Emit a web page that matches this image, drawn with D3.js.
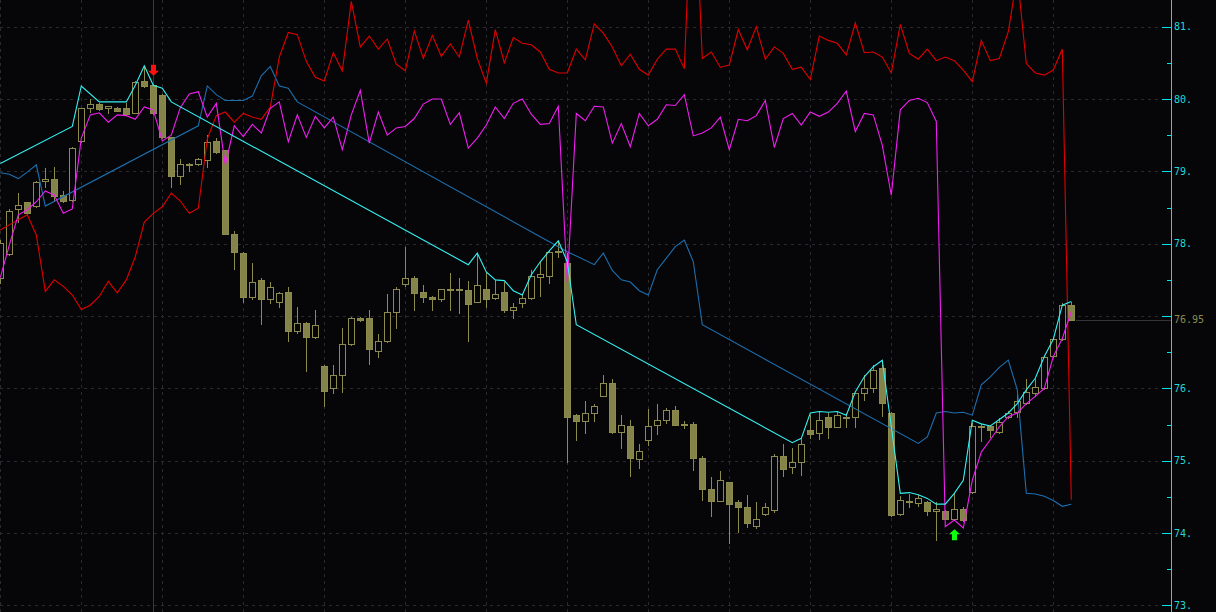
<!DOCTYPE html>
<html><head><meta charset="utf-8">
<script src="https://cdn.jsdelivr.net/npm/d3@7"></script>
<style>html,body{margin:0;padding:0;background:#060609;overflow:hidden}svg{display:block}</style>
</head><body><svg id="c" width="1216" height="612"></svg>
<script>
// ---- data (prices) ----
const opens=[77.53,77.86,78.48,78.57,78.52,78.87,78.90,78.67,78.60,79.42,79.87,79.93,79.87,79.88,79.87,79.81,80.25,80.19,80.06,79.47,78.94,79.09,79.10,79.16,79.42,79.29,78.13,77.87,77.27,77.50,77.23,77.20,77.33,76.80,76.90,76.71,76.31,76.00,76.18,76.61,76.97,76.97,76.52,76.65,77.05,77.44,77.52,77.33,77.27,77.24,77.37,77.37,77.36,77.20,77.37,77.25,77.33,77.09,77.18,77.25,77.54,77.55,77.89,77.74,75.63,75.55,75.66,75.90,76.07,75.40,75.48,75.03,75.28,75.50,75.57,75.70,75.51,75.51,75.04,74.61,74.45,74.70,74.43,74.36,74.10,74.26,74.32,75.07,74.91,74.98,75.42,75.38,75.60,75.47,75.60,75.60,75.93,76.00,76.28,75.66,74.26,74.43,74.42,74.43,74.30,74.31,74.20,74.33,74.57,75.48,75.48,75.40,75.60,75.68,75.80,75.93,76.00,76.45,76.68,77.15];
const highs=[78.05,78.48,78.70,78.58,78.86,79.04,79.06,78.73,79.33,79.88,80.00,79.94,79.91,79.89,79.94,80.25,80.45,80.21,80.07,79.48,79.17,79.12,79.18,79.50,79.46,79.30,78.18,77.88,77.73,77.53,77.47,77.33,77.40,77.12,76.92,77.09,76.32,76.32,76.83,76.98,76.98,77.09,76.75,77.30,77.40,77.95,77.55,77.43,77.28,77.38,77.60,77.52,77.48,77.87,77.61,77.50,77.47,77.18,77.30,77.64,77.75,77.90,78.03,77.87,75.64,75.82,75.79,76.19,76.13,75.63,75.56,75.23,75.72,75.79,75.73,75.76,75.55,75.54,75.06,74.77,74.86,74.71,74.46,74.53,74.43,74.42,75.10,75.23,75.17,75.30,75.63,75.68,75.66,75.68,75.66,75.94,76.18,76.32,76.37,75.67,74.51,74.54,74.52,74.44,74.43,74.32,74.55,74.36,75.52,75.51,75.49,75.59,75.69,75.95,76.13,76.13,76.45,76.69,77.18,77.20];
const lows=[77.45,77.84,78.30,78.41,78.51,78.79,78.60,78.58,78.59,79.41,79.82,79.85,79.80,79.83,79.78,79.80,80.17,79.79,79.46,78.79,78.83,79.00,79.09,79.06,79.26,78.13,77.65,77.20,77.24,76.89,77.18,77.13,76.65,76.76,76.24,76.70,75.75,75.94,75.95,76.60,76.93,76.34,76.44,76.64,76.84,77.41,77.08,77.20,77.08,77.21,77.08,77.04,76.65,77.19,77.12,77.24,77.05,76.97,77.13,77.24,77.28,77.46,77.82,74.98,75.29,75.39,75.55,75.89,75.38,75.17,74.79,74.90,75.22,75.37,75.52,75.49,75.45,74.87,74.46,74.23,74.44,73.87,74.02,74.08,74.07,74.25,74.29,74.79,74.83,74.80,75.32,75.30,75.32,75.46,75.47,75.46,75.84,75.95,75.62,74.23,74.25,74.36,74.38,74.25,73.91,74.19,74.19,74.17,74.56,75.27,75.33,75.39,75.59,75.61,75.79,75.89,75.99,76.44,76.67,76.94];
const closes=[78.01,78.45,78.54,78.42,78.85,78.90,78.66,78.59,79.32,79.87,79.93,79.86,79.90,79.84,79.79,80.24,80.18,79.80,79.47,78.94,79.10,79.10,79.17,79.40,79.27,78.14,77.89,77.27,77.47,77.24,77.40,77.32,76.79,76.90,76.71,76.87,75.97,76.19,76.62,76.97,76.95,76.54,76.65,77.05,77.37,77.52,77.32,77.27,77.23,77.37,77.37,77.38,77.17,77.43,77.24,77.30,77.08,77.12,77.25,77.55,77.58,77.89,77.90,75.60,75.55,75.66,75.76,76.07,75.40,75.50,75.04,75.13,75.48,75.57,75.70,75.50,75.50,75.04,74.61,74.45,74.73,74.40,74.36,74.14,74.20,74.36,75.07,74.88,74.98,75.23,75.37,75.57,75.47,75.63,75.60,75.93,76.00,76.25,75.80,74.25,74.46,74.44,74.48,74.30,74.33,74.20,74.33,74.18,75.48,75.48,75.42,75.53,75.66,75.83,75.95,76.02,76.43,76.68,77.15,76.95];

const magentaVal=[77.53,77.98,78.40,78.47,78.58,78.73,78.67,78.42,78.48,79.46,79.78,79.81,79.68,79.78,79.77,79.72,79.89,79.85,79.42,79.50,79.88,80.07,80.10,79.75,79.94,79.09,79.63,79.48,79.65,79.53,79.87,79.96,79.41,79.78,79.47,79.76,79.60,79.75,79.30,79.78,80.12,79.39,79.82,79.50,79.60,79.62,79.73,79.93,80.00,80.00,79.65,79.81,79.32,79.46,79.64,79.89,79.73,79.94,80.00,79.79,79.65,79.66,79.90,77.46,79.80,79.70,79.90,79.89,79.39,79.66,79.34,79.80,79.63,79.72,79.92,79.91,80.06,79.49,79.53,79.60,79.75,79.30,79.72,79.70,79.77,79.98,79.33,79.73,79.80,79.64,79.82,79.76,79.82,79.94,80.11,79.55,79.80,79.78,79.36,78.67,79.85,79.98,80.01,79.95,79.69,74.09,74.18,74.07,74.73,75.12,75.29,75.47,75.61,75.66,75.79,75.89,76.00,76.44,76.69,77.06];
const redVal=[78.19,78.26,78.33,78.40,78.12,77.34,77.50,77.41,77.29,77.09,77.15,77.27,77.48,77.32,77.50,77.82,78.30,78.42,78.51,78.70,78.59,78.42,78.49,79.45,79.77,79.82,79.68,79.80,79.75,79.72,79.89,80.58,80.92,80.89,80.52,80.30,80.25,80.64,80.39,81.35,80.72,80.87,80.69,80.83,80.48,80.39,80.94,80.56,80.88,80.59,80.76,80.58,81.09,80.56,80.22,80.96,80.50,80.85,80.77,80.75,80.65,80.41,80.36,80.36,80.69,80.54,81.04,80.91,80.72,80.46,80.62,80.41,80.33,80.55,80.69,80.69,80.42,83.44,80.56,80.65,80.44,80.47,80.96,80.68,81.00,80.55,80.72,80.63,80.41,80.44,80.27,80.87,80.81,80.77,80.61,81.05,80.64,80.65,80.58,80.36,81.03,80.63,80.55,80.69,80.53,80.58,80.53,80.40,80.24,80.81,80.53,80.56,80.93,81.71,80.49,80.36,80.33,80.40,80.69,74.46];

const cyanIdx=[0,8,9,11,14,15,16,17,18,19,52,53,54,55,56,57,58,59,60,61,62,63,64,88,89,90,91,92,93,94,95,96,97,98,99,100,101,102,103,104,105,106,107,108,109,110,111,112,113,114,115,116,117,118,119];
const cyanVal=[79.11,79.62,80.18,79.96,79.96,80.19,80.46,80.19,80.15,79.96,77.71,77.87,77.61,77.50,77.49,77.35,77.29,77.57,77.75,77.90,78.04,77.75,76.88,75.25,75.31,75.66,75.68,75.67,75.68,75.63,75.95,76.16,76.30,76.39,75.47,74.55,74.56,74.53,74.48,74.40,74.40,74.55,74.73,75.56,75.51,75.48,75.57,75.66,75.79,75.98,76.14,76.44,76.68,77.15,77.20];

const blueIdx=[0,1,2,3,4,5,22,23,24,25,26,27,28,29,30,31,32,33,63,66,67,68,69,70,71,72,73,74,75,76,77,78,102,103,104,105,106,107,108,109,110,111,112,113,114,115,116,117,118,119];
const blueVal=[78.98,78.96,78.90,78.99,79.09,78.52,79.63,80.18,80.06,79.98,79.98,79.98,80.04,80.32,80.45,80.18,80.15,79.96,77.89,77.71,77.87,77.63,77.50,77.47,77.35,77.29,77.64,77.80,77.96,78.05,77.75,76.88,75.24,75.33,75.66,75.68,75.66,75.67,75.63,76.05,76.16,76.29,76.39,75.98,74.55,74.54,74.51,74.45,74.37,74.40];

const gridPrices=[73,74,75,76,77,78,79,80,81];
const minorPrices=[73.5,74.5,75.5,76.5,77.5,78.5,79.5,80.5];
const tickLabels=["73.","74.","75.","76.","","78.","79.","80.","81."];
const lastPrice=76.95, lastLabel="76.95";
const gridBars=[0,9,18,27,36,45,54,63,72,81,90,99,108,117];
const cursorBar=17;
const sellBar=17, buyBar=106;

// ---- scales ----
const W=1216,H=612,axisX=1171;
const x=d3.scaleLinear().domain([0,119]).range([0.3,1071.3]);
const y=d3.scaleLinear().domain([73,81]).range([605.45,26.65]);
const svg=d3.select("#c");
svg.append("rect").attr("width",W).attr("height",H).attr("fill","#060609");

const gridCol="#2a2a2e";
svg.append("g").selectAll("line").data(gridPrices).join("line")
  .attr("x1",0).attr("x2",1162)
  .attr("y1",d=>Math.round(y(d))+0.5).attr("y2",d=>Math.round(y(d))+0.5)
  .attr("stroke",gridCol).attr("stroke-dasharray","3,4");
svg.append("g").selectAll("line").data(gridBars).join("line")
  .attr("x1",d=>Math.round(x(d))+0.5).attr("x2",d=>Math.round(x(d))+0.5)
  .attr("y1",0).attr("y2",H)
  .attr("stroke",gridCol).attr("stroke-dasharray","3,4");
svg.append("line").attr("x1",Math.round(x(cursorBar))+0.5).attr("x2",Math.round(x(cursorBar))+0.5)
  .attr("y1",0).attr("y2",H).attr("stroke","#5e1d62");

svg.append("line").attr("x1",Math.round(x(119))+5).attr("x2",axisX)
  .attr("y1",Math.round(y(lastPrice))+0.5).attr("y2",Math.round(y(lastPrice))+0.5)
  .attr("stroke","#333336");

// ---- candles ----
const olive="#8c8b4c";
const bars=d3.range(opens.length);
const cg=svg.append("g");
cg.selectAll("line").data(bars).join("line")
  .attr("x1",i=>Math.round(x(i))+0.5).attr("x2",i=>Math.round(x(i))+0.5)
  .attr("y1",i=>Math.round(y(highs[i]))).attr("y2",i=>Math.round(y(lows[i]))+1)
  .attr("stroke",olive);
cg.selectAll("rect").data(bars).join("rect")
  .attr("x",i=>Math.round(x(i))-3+0.5)
  .attr("width",6)
  .attr("y",i=>Math.round(y(Math.max(opens[i],closes[i])))+0.5)
  .attr("height",i=>Math.max(1,Math.round(y(Math.min(opens[i],closes[i])))-Math.round(y(Math.max(opens[i],closes[i])))))
  .attr("fill",i=>closes[i]<opens[i]?"#84834a":"#060609")
  .attr("stroke",olive);

// ---- indicator lines ----
const line=d3.line().x(d=>x(d[0])).y(d=>y(d[1]));
const bluePts=blueIdx.map((k,j)=>[k,blueVal[j]]);
const redPts=redVal.map((v,k)=>[k,v]);
const magPts=magentaVal.map((v,k)=>[k,v]);
const cyanPts=cyanIdx.map((k,j)=>[k,cyanVal[j]]);
svg.append("path").attr("d",line(bluePts)).attr("fill","none").attr("stroke","#1d6fae").attr("stroke-width",1.1);
svg.append("path").attr("d",line(redPts)).attr("fill","none").attr("stroke","#e00000").attr("stroke-width",1.1);
svg.append("path").attr("d",line(magPts)).attr("fill","none").attr("stroke","#f21ef2").attr("stroke-width",1.1);
svg.append("path").attr("d",line(cyanPts)).attr("fill","none").attr("stroke","#35f2f2").attr("stroke-width",1.1);

// ---- signal arrows ----
// dir -1: downward arrow (tip at bottom, body above); dir +1: upward arrow (tip at top, body below)
function arrowPath(cx,tip,dir){
  const s=dir;
  return `M${cx},${tip} L${cx+5.5},${tip+s*5} L${cx+2.5},${tip+s*5} L${cx+2.5},${tip+s*11} L${cx-2.5},${tip+s*11} L${cx-2.5},${tip+s*5} L${cx-5.5},${tip+s*5} Z`;
}
svg.append("path").attr("d",arrowPath(Math.round(x(sellBar))+0.5,y(highs[sellBar])-8,-1)).attr("fill","#ff1010");
svg.append("path").attr("d",arrowPath(Math.round(x(buyBar))+0.5,y(lows[buyBar])+10,1)).attr("fill","#10ff10");

// ---- right axis ----
const ax=svg.append("g");
ax.append("line").attr("x1",axisX+0.5).attr("x2",axisX+0.5).attr("y1",0).attr("y2",H).attr("stroke","#00e4e4");
ax.selectAll(".maj").data(gridPrices).join("line").attr("class","maj")
  .attr("x1",axisX-9).attr("x2",axisX)
  .attr("y1",d=>Math.round(y(d))+0.5).attr("y2",d=>Math.round(y(d))+0.5).attr("stroke","#00e4e4");
ax.selectAll(".min").data(minorPrices).join("line").attr("class","min")
  .attr("x1",axisX-4).attr("x2",axisX)
  .attr("y1",d=>Math.round(y(d))+0.5).attr("y2",d=>Math.round(y(d))+0.5).attr("stroke","#00e4e4");
ax.selectAll("text.lbl").data(gridPrices).join("text").attr("class","lbl")
  .attr("x",axisX+3).attr("y",d=>y(d)+0.5).attr("dominant-baseline","middle")
  .attr("font-family","DejaVu Sans Mono, monospace").attr("font-size",10)
  .attr("fill","#20d8d8").text((d,i)=>tickLabels[i]);
ax.append("text").attr("x",axisX+3).attr("y",y(lastPrice)+0.5).attr("dominant-baseline","middle")
  .attr("font-family","DejaVu Sans Mono, monospace").attr("font-size",10)
  .attr("fill",olive).text(lastLabel);
</script></body></html>
